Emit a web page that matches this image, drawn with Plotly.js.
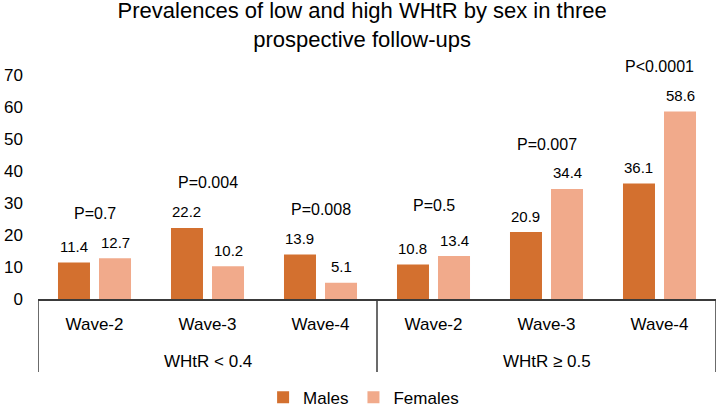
<!DOCTYPE html>
<html>
<head>
<meta charset="utf-8">
<script src="https://cdn.plot.ly/plotly-3.0.1.min.js"></script>
<style>html,body{margin:0;padding:0;background:#fff;}#chart{width:720px;height:408px;}</style>
</head>
<body>
<div id="chart"></div>
<script>
// ---- data ----
const groups = ["WHtR < 0.4", "WHtR < 0.4", "WHtR < 0.4", "WHtR ≥ 0.5", "WHtR ≥ 0.5", "WHtR ≥ 0.5"];
const waves = ["Wave-2", "Wave-3", "Wave-4", "Wave-2", "Wave-3", "Wave-4"];
const males = [11.4, 22.2, 13.9, 10.8, 20.9, 36.1];
const females = [12.7, 10.2, 5.1, 13.4, 34.4, 58.6];
const pValues = ["P=0.7", "P=0.004", "P=0.008", "P=0.5", "P=0.007", "P<0.0001"];
const pLabelY = [26.8, 36.5, 28.0, 29.2, 48.3, 72.8];
const yTicks = [0, 10, 20, 30, 40, 50, 60, 70];

// ---- style ----
const FONT = '"Liberation Sans", Arial, sans-serif';
const MALE_COLOR = '#D3702F';
const FEMALE_COLOR = '#F1AA8B';
const LINE_COLOR = '#3a3a3a';
const BARGAP = 0.274;
const half = (1 - BARGAP) / 4;

// unique category keys (group + wave), shown with the wave name only
const cats = waves.map((w, i) => groups[i] + ' | ' + w);

const traces = [
  {type: 'bar', name: 'Males', x: cats, y: males,
   marker: {color: MALE_COLOR}, hoverinfo: 'y'},
  {type: 'bar', name: 'Females', x: cats, y: females,
   marker: {color: FEMALE_COLOR}, hoverinfo: 'y'}
];

const annotations = [];
males.forEach((v, i) => annotations.push({
  xref: 'x', yref: 'y', x: i - half, y: v, text: v.toFixed(1), showarrow: false,
  yanchor: 'middle', yshift: 16, font: {family: FONT, size: 15, color: '#000'}
}));
females.forEach((v, i) => annotations.push({
  xref: 'x', yref: 'y', x: i + half, y: v, text: v.toFixed(1), showarrow: false,
  yanchor: 'middle', yshift: 16, font: {family: FONT, size: 15, color: '#000'}
}));
pValues.forEach((t, i) => annotations.push({
  xref: 'x', yref: 'y', x: i, y: pLabelY[i], text: t, showarrow: false,
  yanchor: 'middle', font: {family: FONT, size: 16, color: '#000'}
}));

// group (second-level) labels and dividers, from the groups array
const shapes = [];
const runs = [];
groups.forEach((g, i) => {
  if (!runs.length || runs[runs.length - 1].g !== g) runs.push({g: g, start: i, end: i});
  else runs[runs.length - 1].end = i;
});
const divY = -0.304;
runs.forEach((r, k) => {
  annotations.push({
    xref: 'x', yref: 'paper', x: (r.start + r.end) / 2, y: -0.262, yanchor: 'middle',
    text: r.g, showarrow: false, font: {family: FONT, size: 17, color: '#000'}
  });
  if (k === 0) shapes.push({type: 'line', xref: 'x', yref: 'paper', x0: r.start - 0.5, x1: r.start - 0.5,
    y0: 0, y1: divY, line: {color: LINE_COLOR, width: 1.5}});
  shapes.push({type: 'line', xref: 'x', yref: 'paper', x0: r.end + 0.5, x1: r.end + 0.5,
    y0: 0, y1: divY, line: {color: LINE_COLOR, width: 1.5}});
});

const layout = {
  width: 720, height: 408,
  margin: {l: 38, r: 4, t: 59, b: 109, pad: 0, autoexpand: false},
  paper_bgcolor: '#fff', plot_bgcolor: '#fff',
  font: {family: FONT, color: '#000'},
  title: {
    text: 'Prevalences of low and high WHtR by sex in three<br>prospective follow-ups',
    font: {family: FONT, size: 22, color: '#000'},
    xref: 'container', x: 0.503, xanchor: 'center',
    yref: 'container', y: 0.955, yanchor: 'top', pad: {t: 0, b: 0}
  },
  barmode: 'group', bargap: BARGAP, bargroupgap: 0.22,
  xaxis: {
    type: 'category', range: [-0.5, cats.length - 0.5],
    tickvals: cats, ticktext: waves,
    showline: true, linecolor: LINE_COLOR, linewidth: 1.5,
    ticks: '', showgrid: false, zeroline: false,
    ticklabelstandoff: 9,
    tickfont: {family: FONT, size: 17, color: '#000'}
  },
  yaxis: {
    range: [0, 75], tickvals: yTicks, ticktext: yTicks.map(String),
    showgrid: false, zeroline: false, showline: false, ticks: '',
    ticklabelstandoff: 14,
    tickfont: {family: FONT, size: 17, color: '#000'}
  },
  legend: {
    orientation: 'h', xref: 'container', x: 0.505, xanchor: 'center',
    yref: 'container', y: 0.025, yanchor: 'middle',
    font: {family: FONT, size: 17, color: '#000'}, itemwidth: 30
  },
  annotations: annotations,
  shapes: shapes,
  showlegend: true
};

Plotly.newPlot('chart', traces, layout, {displayModeBar: false, staticPlot: true});
</script>
</body>
</html>
